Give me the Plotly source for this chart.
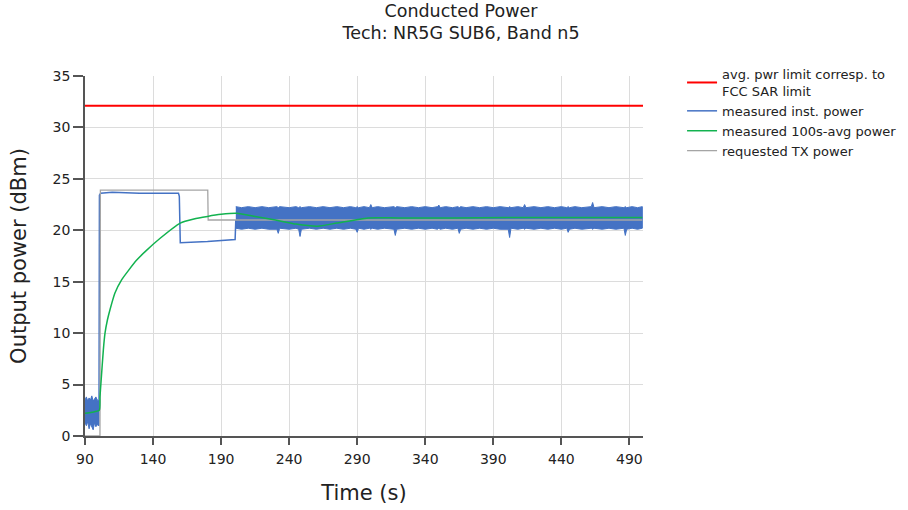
import plotly.graph_objects as go

# ---- data ----
limit_t = [90, 500]
limit_v = [32.1, 32.1]

# early noisy segment of inst. power (before the step): envelope
early_t = [90, 91, 92, 93, 94, 95, 96, 97, 98, 99, 100.3]
early_up = [3.5, 3.8, 3.4, 3.7, 3.5, 3.9, 3.4, 3.6, 3.8, 3.5, 3.4]
early_lo = [1.3, 1.0, 1.4, 0.7, 1.2, 1.0, 0.6, 1.3, 0.9, 1.1, 1.0]

# stepped part of inst. power
step_t = [100.3, 100.6, 101.5, 110, 130, 158.7, 159.3, 159.6, 160.0, 180, 200.3, 200.8]
step_v = [2.5, 23.4, 23.6, 23.7, 23.6, 23.6, 23.3, 19.5, 18.8, 18.9, 19.1, 21.0]

# noisy segment of inst. power after 200 s: envelope (upper / lower)
band_t = [200.8, 205, 210, 215, 220, 225, 231, 232, 233, 240, 245, 247, 248, 249, 255,
          260, 265, 270, 275, 280, 285, 289, 290, 291, 295, 299, 300, 301, 305, 310,
          317, 318, 319, 325, 330, 335, 340, 345, 349, 350, 351, 355, 360, 364, 365,
          366, 370, 375, 380, 385, 390, 395, 401, 402, 403, 408, 412, 413, 414, 420,
          425, 430, 435, 440, 444, 445, 446, 450, 455, 462, 463, 464, 470, 475, 480,
          486, 487, 488, 492, 496, 499.5]
band_up = [22.3, 22.2, 22.3, 22.2, 22.3, 22.2, 22.3, 22.2, 22.3, 22.2, 22.3, 22.2, 22.3, 22.2, 22.3,
           22.2, 22.3, 22.2, 22.3, 22.2, 22.3, 22.2, 22.3, 22.2, 22.3, 22.2, 22.5, 22.2, 22.3, 22.2,
           22.3, 22.2, 22.3, 22.2, 22.3, 22.2, 22.3, 22.2, 22.3, 22.45, 22.2, 22.3, 22.2, 22.3, 22.2,
           22.3, 22.2, 22.3, 22.2, 22.3, 22.2, 22.3, 22.2, 22.3, 22.2, 22.3, 22.2, 22.5, 22.2, 22.3,
           22.2, 22.3, 22.2, 22.3, 22.2, 22.3, 22.2, 22.3, 22.2, 22.3, 22.7, 22.2, 22.3, 22.2, 22.3,
           22.2, 22.3, 22.2, 22.3, 22.2, 22.3]
band_lo = [20.2, 20.1, 20.2, 20.1, 20.2, 20.1, 20.1, 19.7, 20.2, 20.1, 20.2, 20.1, 19.4, 20.1, 20.2,
           20.1, 20.2, 20.1, 20.2, 20.1, 20.2, 20.1, 19.8, 20.2, 20.1, 20.2, 20.1, 20.2, 20.1, 20.2,
           20.1, 19.5, 20.1, 20.2, 20.1, 20.2, 20.1, 20.2, 20.1, 20.2, 20.1, 20.2, 20.1, 20.2, 19.7,
           20.1, 20.2, 20.1, 20.2, 20.1, 20.2, 20.1, 20.1, 19.3, 20.2, 20.1, 20.2, 20.1, 20.2, 20.1,
           20.2, 20.1, 20.2, 20.1, 20.2, 19.8, 20.1, 20.2, 20.1, 20.2, 20.1, 20.2, 20.1, 20.2, 20.1,
           20.2, 19.5, 20.1, 20.2, 20.1, 20.2]

# 100 s running average
avg_t = [90, 95, 100.5, 101.0, 101.8, 103.5, 104.7, 106.5, 108.4, 112, 117, 122, 128, 134, 145,
         160, 170, 180, 190, 201.5, 215, 230, 245, 261, 275, 298, 320, 360, 400, 450, 499.5]
avg_v = [2.2, 2.3, 2.5, 3.8, 5.3, 8.4, 10.0, 11.3, 12.3, 13.9, 15.2, 16.1, 17.1, 17.9, 19.2,
         20.7, 21.1, 21.35, 21.55, 21.65, 21.35, 21.0, 20.6, 20.4, 20.7, 21.2, 21.2, 21.2, 21.25, 21.25, 21.25]

# requested TX power
req_t = [90, 101.0, 101.3, 180.2, 180.5, 499.5]
req_v = [0, 0, 23.9, 23.9, 21.0, 21.0]

x_ticks = [90, 140, 190, 240, 290, 340, 390, 440, 490]
y_ticks = [0, 5, 10, 15, 20, 25, 30, 35]

RED = "#ff0000"
BLUE = "#4472c4"
GREEN = "#12b24f"
GRAY = "#a5a5a5"
FONT = "DejaVu Sans"
TXT = "#222222"

fig = go.Figure()

# inst. power: noisy segments drawn as filled envelopes
fig.add_trace(go.Scatter(
    x=early_t + early_t[::-1], y=early_up + early_lo[::-1],
    fill="toself", fillcolor=BLUE, mode="lines", line=dict(color=BLUE, width=1),
    showlegend=False, hoverinfo="skip"))
fig.add_trace(go.Scatter(
    x=band_t + band_t[::-1], y=band_up + band_lo[::-1],
    fill="toself", fillcolor=BLUE, mode="lines", line=dict(color=BLUE, width=1),
    showlegend=False, hoverinfo="skip"))
fig.add_trace(go.Scatter(
    x=step_t, y=step_v, mode="lines", line=dict(color=BLUE, width=1.5),
    name="measured inst. power", legendrank=2))

fig.add_trace(go.Scatter(
    x=req_t, y=req_v, mode="lines", line=dict(color=GRAY, width=1.3),
    name="requested TX power", legendrank=4))
fig.add_trace(go.Scatter(
    x=avg_t, y=avg_v, mode="lines", line=dict(color=GREEN, width=1.5, shape="spline", smoothing=0.5),
    name="measured 100s-avg power", legendrank=3))
fig.add_trace(go.Scatter(
    x=limit_t, y=limit_v, mode="lines", line=dict(color=RED, width=2),
    name="avg. pwr limit corresp. to<br>FCC SAR limit", legendrank=1))

# figure is a bit wider than the window so the legend never squeezes the plot area;
# the extra strip on the right is blank and falls outside the window
FIG_W, FIG_H = 930, 510
fig.update_layout(
    width=FIG_W, height=FIG_H,
    margin=dict(l=85, r=FIG_W - 85 - 558, t=76, b=74, autoexpand=False),
    paper_bgcolor="white", plot_bgcolor="white",
    font=dict(family=FONT, color=TXT, size=14),
    title=dict(text="Conducted Power<br>Tech: NR5G SUB6, Band n5",
               x=461 / FIG_W, xanchor="center", y=0.9673, yanchor="top",
               font=dict(family=FONT, size=17.5, color=TXT)),
    legend=dict(x=1.07, xanchor="left", y=1.047, yanchor="top",
                font=dict(family=FONT, size=13, color=TXT),
                bgcolor="rgba(0,0,0,0)", tracegroupgap=0),
    showlegend=True,
)
fig.update_xaxes(
    range=[90, 500], tickvals=x_ticks, ticktext=[str(v) for v in x_ticks],
    automargin=False,
    showgrid=True, gridcolor="#dcdcdc", gridwidth=1, zeroline=False,
    showline=True, linecolor="#555555", linewidth=1.5,
    ticks="outside", ticklen=7, tickcolor="#555555", tickwidth=1.5,
    ticklabelstandoff=2,
    tickfont=dict(family=FONT, size=14, color=TXT),
    title=dict(text="Time (s)", font=dict(family=FONT, size=21, color=TXT), standoff=20),
)
fig.update_yaxes(
    range=[0, 35], tickvals=y_ticks, ticktext=[str(v) for v in y_ticks],
    automargin=False,
    showgrid=True, gridcolor="#dcdcdc", gridwidth=1, zeroline=False,
    showline=True, linecolor="#555555", linewidth=1.5,
    ticks="outside", ticklen=10, tickcolor="#555555", tickwidth=1.5,
    tickfont=dict(family=FONT, size=14, color=TXT),
    title=dict(text="Output power (dBm)", font=dict(family=FONT, size=21, color=TXT), standoff=20),
)

# remove the browser's default 8 px page margin so the figure sits at the window origin
fig.write_html("out.html",
               config={"displayModeBar": False},
               post_script="document.body.style.margin='0';document.body.style.overflow='hidden';")
